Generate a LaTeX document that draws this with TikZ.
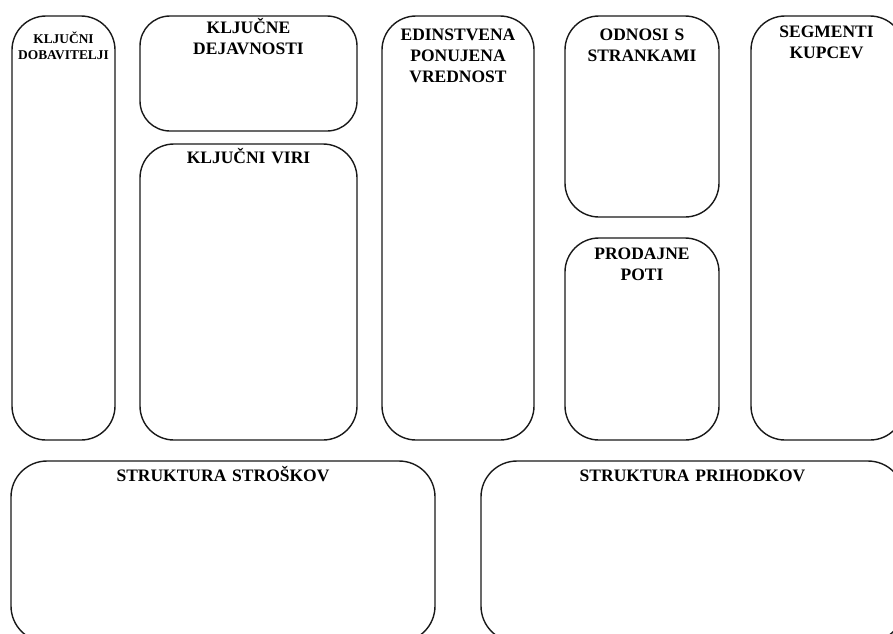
\documentclass[tikz,border=0pt]{standalone}
\usepackage{fontspec}
\setmainfont{Liberation Serif}[BoldFont={Liberation Serif Bold}]
\begin{document}
\begin{tikzpicture}[x=1pt,y=-1pt,
  panel/.style={draw=black!90, line width=1.4pt, rounded corners=34pt,
    anchor=north west, inner sep=0pt, outer sep=0pt},
  title/.style={anchor=base, inner sep=0pt, align=center, text width=200pt,
    font=\bfseries\fontsize{17.5}{21}\selectfont},
  smalltitle/.style={anchor=base, inner sep=0pt, align=center, text width=100pt,
    font=\bfseries\fontsize{13.4}{16}\selectfont}]
\useasboundingbox (0,0) rectangle (893,633);
\clip (0,0) rectangle (893,633);

% upper row of panels
\node[panel, minimum width=103pt, minimum height=424pt] (dob)  at (12,16) {};
\node[panel, minimum width=217pt, minimum height=115pt, rounded corners=30pt] (dej) at (140,16) {};
\node[panel, minimum width=217pt, minimum height=296pt] (viri) at (140,144) {};
\node[panel, minimum width=152pt, minimum height=424pt] (vred) at (382,16) {};
\node[panel, minimum width=154pt, minimum height=201pt] (odn)  at (565,16) {};
\node[panel, minimum width=154pt, minimum height=202pt] (poti) at (565,238) {};
\node[panel, minimum width=153pt, minimum height=424pt] (seg)  at (751,16) {};

% lower row of panels
\node[panel, minimum width=424pt, minimum height=181pt, rounded corners=36pt] (stro) at (11,461) {};
\node[panel, minimum width=423pt, minimum height=181pt, rounded corners=36pt] (prih) at (481,461) {};

% panel titles
\node[smalltitle] (tdob) at ([yshift=-27pt]dob.north) {KLJUČNI\\DOBAVITELJI};
\node[title] (tdej)  at ([yshift=-17pt]dej.north)  {KLJUČNE\\DEJAVNOSTI};
\node[title] (tviri) at ([yshift=-19pt]viri.north) {KLJUČNI VIRI};
\node[title] (tvred) at ([yshift=-24pt]vred.north) {EDINSTVENA\\PONUJENA\\VREDNOST};
\node[title] (todn)  at ([yshift=-24pt]odn.north)  {ODNOSI S\\STRANKAMI};
\node[title] (tpoti) at ([yshift=-21pt]poti.north) {PRODAJNE\\POTI};
\node[title, text width=150pt] (tseg) at ([yshift=-21pt,xshift=-1pt]seg.north) {SEGMENTI\\KUPCEV};
\node[title, text width=300pt] (tstro) at ([yshift=-20pt]stro.north) {STRUKTURA STROŠKOV};
\node[title, text width=300pt] (tprih) at ([yshift=-20pt]prih.north) {STRUKTURA PRIHODKOV};
\end{tikzpicture}
\end{document}
